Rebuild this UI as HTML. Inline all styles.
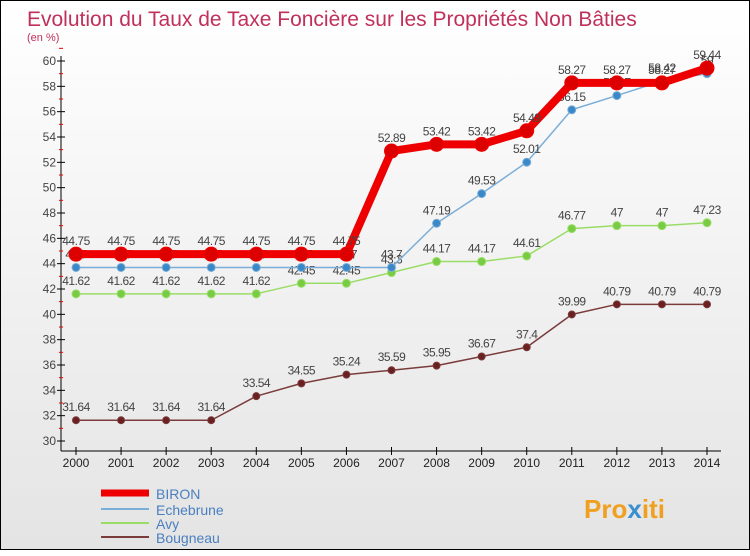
<!DOCTYPE html>
<html><head><meta charset="utf-8"><style>
body{margin:0;width:750px;height:550px;overflow:hidden;font-family:"Liberation Sans",sans-serif;}
#c{position:absolute;left:0;top:0;width:748px;height:548px;border:1px solid #000;background:linear-gradient(#fff,#e4e4e4);}
</style></head><body>
<div id="c">
<svg id="s" width="750" height="550" xmlns="http://www.w3.org/2000/svg">
<text x="26" y="25" font-size="21" fill="#c0305a">Evolution du Taux de Taxe Foncière sur les Propriétés Non Bâties</text>
<text x="26" y="40" font-size="11" fill="#c0305a">(en %)</text>
<g id="axes"></g><g id="series"></g>
<g>
<line x1="100" y1="492" x2="148" y2="492" stroke="#e00" stroke-width="7"/>
<text x="155" y="498" font-size="14" fill="#4a7fc0">BIRON</text>
<line x1="100" y1="508" x2="148" y2="508" stroke="#7aaed8" stroke-width="2"/>
<text x="155" y="514" font-size="14" fill="#4a7fc0">Echebrune</text>
<line x1="100" y1="522" x2="148" y2="522" stroke="#99dd66" stroke-width="2"/>
<text x="155" y="528" font-size="14" fill="#4a7fc0">Avy</text>
<line x1="100" y1="536" x2="148" y2="536" stroke="#7a3b3b" stroke-width="2"/>
<text x="155" y="542" font-size="14" fill="#4a7fc0">Bougneau</text>
</g>
<text x="583" y="517" font-size="26" font-weight="bold" fill="#f0a020">Pro<tspan fill="#3a8fd0">x</tspan>iti</text>
</svg></div>
<script>
const years=["2000","2001","2002","2003","2004","2005","2006","2007","2008","2009","2010","2011","2012","2013","2014"];
const biron=[44.75,44.75,44.75,44.75,44.75,44.75,44.75,52.89,53.42,53.42,54.49,58.27,58.27,58.27,59.44];
const echebrune=[43.7,43.7,43.7,43.7,43.7,43.7,43.7,43.7,47.19,49.53,52.01,56.15,57.27,58.42,59];
const avy=[41.62,41.62,41.62,41.62,41.62,42.45,42.45,43.3,44.17,44.17,44.61,46.77,47,47,47.23];
const bougneau=[31.64,31.64,31.64,31.64,33.54,34.55,35.24,35.59,35.95,36.67,37.4,39.99,40.79,40.79,40.79];
const yTicks=[30,32,34,36,38,40,42,44,46,48,50,52,54,56,58,60];
const NS="http://www.w3.org/2000/svg";
const X=i=>75+i*(631/14), Y=v=>440-(v-30)*(380/30);
function mk(p,t,a){const e=document.createElementNS(NS,t);for(const k in a)e.setAttribute(k,a[k]);p.appendChild(e);return e;}
const ax=document.getElementById('axes'), sg=document.getElementById('series');
let l=mk(ax,'line',{x1:60,y1:55,x2:60,y2:450,stroke:'#000'});


l=mk(ax,'line',{x1:60,y1:450,x2:720,y2:450,stroke:'#000'});


yTicks.forEach(v=>{const y=Y(v);mk(ax,'line',{x1:56,y1:y,x2:64,y2:y,stroke:'#000'});
mk(ax,'line',{x1:58,y1:y-12.67,x2:62,y2:y-12.67,stroke:'#e00'});
const t=mk(ax,'text',{x:55,y:y+4,'font-size':12,'text-anchor':'end',fill:'#444'});t.textContent=v;

});
years.forEach((yr,i)=>{const x=X(i);mk(ax,'line',{x1:x,y1:446,x2:x,y2:454,stroke:'#000'});
const t=mk(ax,'text',{x:x,y:466,'font-size':12,'text-anchor':'middle',fill:'#222'});t.textContent=yr;

});
function series(d,name,col,w,r,dot){const g=mk(sg,'g',{});


mk(g,'polyline',{points:d.map((v,i)=>X(i)+','+Y(v)).join(' '),fill:'none',stroke:col,'stroke-width':w,'stroke-linejoin':'round'});
d.forEach((v,i)=>{const c=mk(g,'circle',{cx:X(i),cy:Y(v),r:r,fill:dot,stroke:col});


const t=mk(g,'text',{x:X(i),y:Y(v)-9,'font-size':12,'text-anchor':'middle',fill:'#444','letter-spacing':'-0.5'});t.textContent=v;

});}
series(bougneau,'bougneau','#7a3b3b',1.5,3.5,'#6a2020');
series(avy,'avy','#99dd66',1.5,4,'#77cc44');
series(echebrune,'echebrune','#7aaed8',1.5,4,'#3a88c8');
series(biron,'biron','#ee0000',8,7,'#dd0000');
</script>
</body></html>
